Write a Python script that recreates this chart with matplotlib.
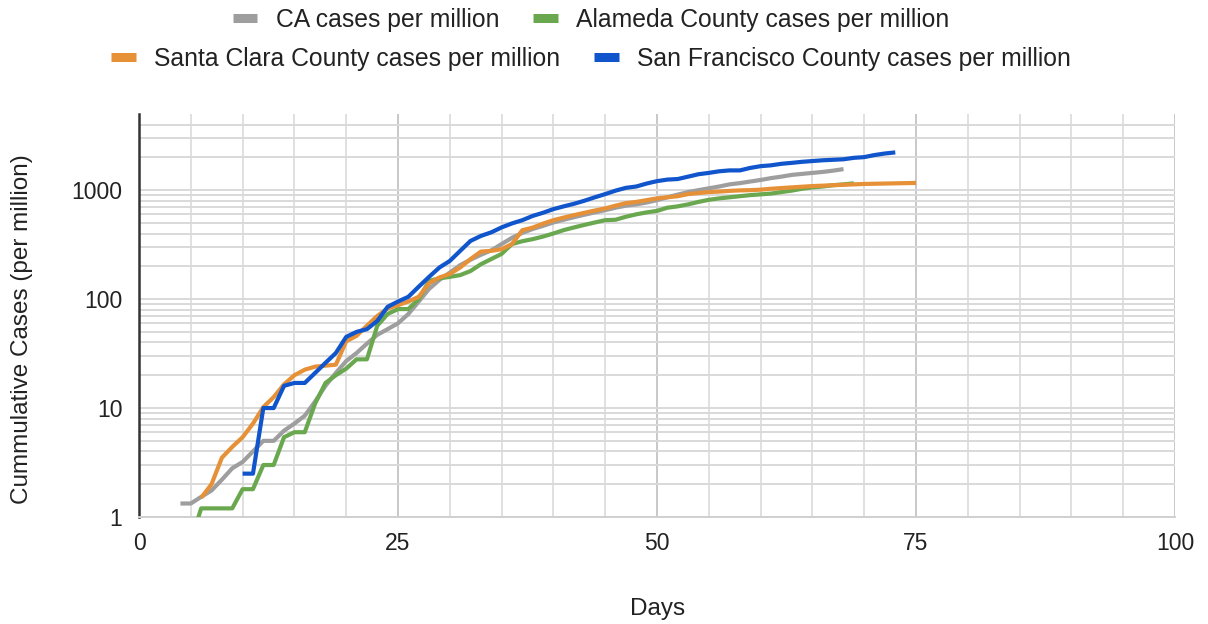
import numpy as np
import matplotlib
matplotlib.use("Agg")
import matplotlib.pyplot as plt
from matplotlib.ticker import FixedLocator, NullFormatter, FixedFormatter

plt.rcParams['font.family'] = ['Liberation Sans', 'DejaVu Sans']

# ---- data (cases per million, by day) ----
ca_start = 4
ca_vals = [1.33, 1.33, 1.53, 1.75, 2.2, 2.8, 3.2, 4.0, 5.0, 5.0, 6.2, 7.2, 8.5, 11.5, 16,
           21, 27, 32, 39, 47, 53, 60, 73, 95, 124, 150, 175, 205, 230, 255, 280, 320,
           365, 405, 440, 470, 505, 535, 565, 595, 625, 655, 690, 720, 740, 770, 810,
           860, 910, 960, 1000, 1040, 1080, 1130, 1160, 1200, 1240, 1290, 1330, 1380,
           1410, 1440, 1470, 1510, 1560]

sc_start = 6
sc_vals = [1.5, 2.0, 3.5, 4.4, 5.4, 7.2, 10.2, 12.6, 16.5, 20, 22.5, 24, 24.5, 25, 41, 46,
           57, 70, 82, 88, 95, 105, 140, 158, 170, 195, 233, 273, 277, 287, 320, 429, 453,
           493, 530, 560, 590, 620, 650, 680, 720, 760, 780, 810, 840, 860, 880, 920, 940,
           960, 970, 985, 995, 1000, 1010, 1030, 1045, 1060, 1075, 1090, 1100, 1110, 1120,
           1130, 1140, 1145, 1150, 1155, 1160, 1165]

al_start = 5
al_vals = [0.6, 1.2, 1.2, 1.2, 1.2, 1.8, 1.8, 3.0, 3.0, 5.4, 6.0, 6.0, 11, 17, 20, 23, 28,
           28, 57, 73, 81, 81, 100, 147, 155, 160, 166, 181, 209, 233, 260, 320, 340, 355,
           375, 400, 430, 455, 480, 505, 530, 535, 570, 600, 625, 645, 690, 710, 740, 780,
           815, 840, 860, 880, 900, 915, 930, 960, 990, 1030, 1060, 1080, 1110, 1130, 1155]

sf_start = 10
sf_vals = [2.5, 2.5, 10, 10, 16, 17, 17, 21, 26, 32, 45, 50, 53, 63, 85, 95, 105, 130, 160,
           195, 224, 277, 342, 380, 410, 455, 495, 530, 580, 620, 670, 710, 750, 800, 860,
           920, 990, 1050, 1080, 1150, 1210, 1250, 1265, 1330, 1400, 1440, 1490, 1518, 1518,
           1600, 1660, 1690, 1745, 1780, 1820, 1850, 1880, 1900, 1920, 1980, 2010, 2100,
           2170, 2220]

labels = ["CA cases per million", "Alameda County cases per million",
          "Santa Clara County cases per million", "San Francisco County cases per million"]
colors = ["#9e9e9e", "#6aa84f", "#e69138", "#1155cc"]

x_ticks = [0, 25, 50, 75, 100]
y_ticks = [1, 10, 100, 1000]
y_tick_labels = ["1", "10", "100", "1000"]

# ---- figure ----
fig = plt.figure(figsize=(12.08, 6.24), dpi=100)
ax = fig.add_axes([139/1208, 1-517/624, (1175-139)/1208, (517-114)/624])

series = [(ca_start, ca_vals), (al_start, al_vals), (sc_start, sc_vals), (sf_start, sf_vals)]
lines = []
for i, ((start, vals), lab, col) in enumerate(zip(series, labels, colors)):
    d = np.arange(start, start + len(vals))
    ln, = ax.plot(d, vals, color=col, lw=3.0, label=lab, zorder=3 + i,
                  solid_joinstyle='round', solid_capstyle='butt')
    lines.append(ln)

ax.set_yscale('log')
ax.set_xlim(0, 100)
ax.set_ylim(1, 5000)

ax.xaxis.set_major_locator(FixedLocator(x_ticks))
ax.xaxis.set_minor_locator(FixedLocator(np.arange(5, 100, 5)))
ax.yaxis.set_major_locator(FixedLocator(y_ticks))
ax.yaxis.set_major_formatter(FixedFormatter(y_tick_labels))
minor_y = [m * 10**e for e in range(0, 4) for m in range(2, 10) if m * 10**e < 5000]
ax.yaxis.set_minor_locator(FixedLocator(minor_y))
ax.yaxis.set_minor_formatter(NullFormatter())
ax.xaxis.set_minor_formatter(NullFormatter())

ax.grid(True, which='major', axis='x', color='#c8c8c8', lw=1.4)
ax.grid(True, which='minor', axis='x', color='#e0e0e0', lw=1.4)
ax.grid(True, which='both', axis='y', color='#d9d9d9', lw=1.4)
ax.set_axisbelow(True)

for s in ['top', 'right']:
    ax.spines[s].set_visible(False)
ax.spines['bottom'].set_color('#d0d0d0')
ax.spines['bottom'].set_linewidth(1.4)
ax.spines['left'].set_color('#333333')
ax.spines['left'].set_linewidth(1.8)

ax.tick_params(axis='both', which='both', length=0, labelsize=16.5, colors='#222222')
ax.tick_params(axis='x', pad=11)
ax.tick_params(axis='y', pad=12)

fig.text(22/1208, 1-329/624, "Cummulative Cases (per million)", rotation=90,
         ha='center', va='center', fontsize=17.5, color='#222222')
fig.text(658/1208, 1-609/624, "Days", ha='center', va='center',
         fontsize=17.5, color='#222222')

# ---- legend: two centred rows ----
for row, (idx, yc) in enumerate([((0, 1), 20), ((2, 3), 59)]):
    leg = fig.legend([lines[i] for i in idx], [labels[i] for i in idx], ncol=2,
                     loc='center', bbox_to_anchor=(591/1208, 1-yc/624), frameon=False,
                     fontsize=17.8, handlelength=1.0, handletextpad=0.75,
                     columnspacing=1.35, borderpad=0, borderaxespad=0)
    for h in leg.legend_handles:
        h.set_linewidth(6.5)
    for t in leg.get_texts():
        t.set_color('#222222')

fig.savefig("out.png", dpi=100)
